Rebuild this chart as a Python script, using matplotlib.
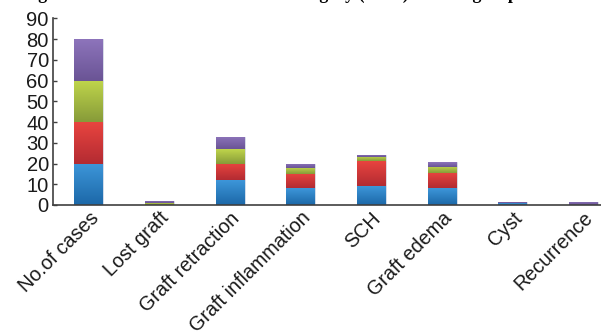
import numpy as np
import matplotlib
matplotlib.use("Agg")
import matplotlib.pyplot as plt
import matplotlib.transforms as mtransforms
from matplotlib.colors import LinearSegmentedColormap

categories = ["No.of cases", "Lost graft", "Graft retraction", "Graft inflammation",
              "SCH", "Graft edema", "Cyst", "Recurrence"]
series_blue = [20, 0, 12, 8, 9, 8, 0.8, 0]
series_red = [20, 0, 8, 7, 12, 7.5, 0, 0]
series_green = [20, 1, 7, 3, 2, 3, 0, 0]
series_purple = [20, 1, 6, 2, 1, 2.2, 0.8, 1.5]
yticks = [0, 10, 20, 30, 40, 50, 60, 70, 80, 90]
title_text = "Figure 3 Numbers of cases in each category (n=80) in each group"

series = [series_blue, series_red, series_green, series_purple]
grad = [("#3d96d9", "#1c68a8"), ("#e8443f", "#b32b32"),
        ("#bfd54b", "#879b39"), ("#8d74bb", "#6a5495")]

W, H = 601, 333
fig = plt.figure(figsize=(W / 100, H / 100), dpi=100)
ax = fig.add_axes([53 / W, 1 - 205 / H, 1 - 53 / W, (205 - 18.3) / H])

x = np.arange(len(categories))
bottom = np.zeros(len(categories))
gradimg = np.linspace(0, 1, 64).reshape(-1, 1)
for vals, (ctop, cbot) in zip(series, grad):
    vals = np.array(vals, dtype=float)
    bars = ax.bar(x, vals, width=0.41, bottom=bottom, color=cbot,
                  edgecolor="#dfe5ef", linewidth=0.6, zorder=2)
    cmap = LinearSegmentedColormap.from_list("g", [cbot, ctop])
    for b, v, b0 in zip(bars, vals, bottom):
        if v <= 0:
            continue
        x0 = b.get_x()
        im = ax.imshow(gradimg, cmap=cmap, origin="lower", aspect="auto",
                       extent=[x0, x0 + b.get_width(), b0, b0 + v],
                       zorder=2.5, interpolation="bilinear")
        im.set_clip_path(b)
    bottom += vals

ax.set_xlim(-0.507, 7.25)
ax.set_ylim(0, 90)
ax.set_yticks(yticks)
ax.set_xticks(x)
ax.set_xticklabels(categories, rotation=45, ha="right", rotation_mode="anchor",
                   fontsize=14.2, color="#1a1a1a", family="Liberation Sans")
offset = mtransforms.ScaledTranslation(7 / 100, 0, fig.dpi_scale_trans)
for lab in ax.get_xticklabels():
    lab.set_transform(lab.get_transform() + offset)
for lab in ax.get_yticklabels():
    lab.set_fontsize(14.5)
    lab.set_family("Liberation Sans")
    lab.set_color("#1a1a1a")
ax.tick_params(axis="y", direction="in", length=3, width=1, color="#404040", pad=3)
ax.tick_params(axis="x", length=0, pad=2.5)
for s in ["top", "right"]:
    ax.spines[s].set_visible(False)
for s in ["left", "bottom"]:
    ax.spines[s].set_color("#404040")
    ax.spines[s].set_linewidth(1.2)

fig.text(22 / W, 1 + 1.5 / H, title_text, family="Liberation Serif",
         fontweight="bold", fontsize=13, va="baseline", ha="left")

fig.savefig("out.png", dpi=100)
